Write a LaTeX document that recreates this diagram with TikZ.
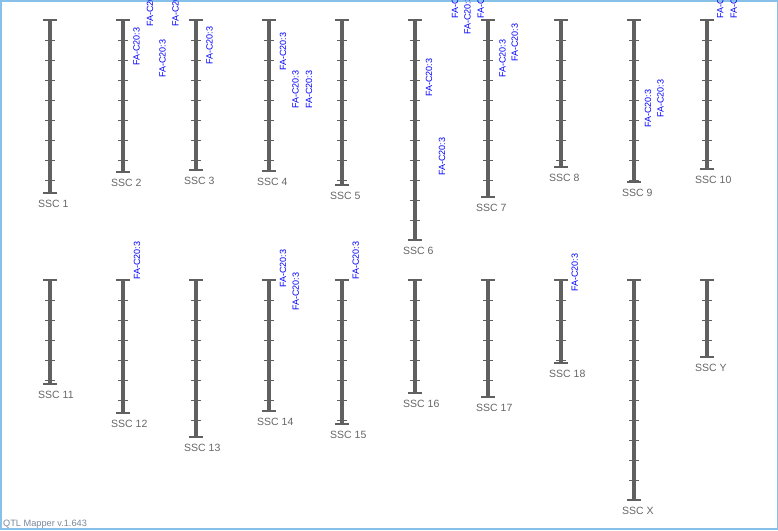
\documentclass[tikz,border=0pt]{standalone}
\usepackage{fontspec}
\setmainfont{Liberation Sans}

\definecolor{chromgray}{RGB}{96,96,96}
\definecolor{labelgray}{RGB}{102,102,102}
\definecolor{frameblue}{RGB}{135,192,232}
\definecolor{footgray}{RGB}{120,135,155}

\tikzset{
    chrom/.style={chromgray, line width=4.5pt},
    chromcap/.style={chromgray, line width=1.5pt},
    tickmark/.style={chromgray, line width=0.8pt},
    chromlabel/.style={labelgray, font=\fontsize{10.5}{12}\selectfont, anchor=west, inner sep=0pt},
    qtl/.style={blue, font=\fontsize{9}{10}\selectfont, rotate=90, anchor=west, inner sep=0pt},
    footer/.style={footgray, font=\fontsize{9.2}{10}\selectfont, anchor=base west, inner sep=0pt}
}

\begin{document}
\begin{tikzpicture}[x=1pt, y=-1pt]
    \useasboundingbox (0,0) rectangle (778,530);
    \clip (0,0) rectangle (778,530);

    % Frame
    \draw[frameblue, line width=1.5pt] (0.75,0.75) rectangle (777.25,528.75);

    % Draw chromosomes with ticks every 20
    \foreach \id/\x/\ya/\yb/\lab in {
        c1/50/20/193/SSC 1, c2/123/20/172/SSC 2, c3/196/20/170/SSC 3,
        c4/269/20/171/SSC 4, c5/342/20/185/SSC 5, c6/415/20/240/SSC 6,
        c7/488/20/197/SSC 7, c8/561/20/167/SSC 8, c9/634/20/182/SSC 9,
        c10/707/20/169/SSC 10,
        c11/50/280/384/SSC 11, c12/123/280/413/SSC 12, c13/196/280/437/SSC 13,
        c14/269/280/411/SSC 14, c15/342/280/424/SSC 15, c16/415/280/393/SSC 16,
        c17/488/280/397/SSC 17, c18/561/280/363/SSC 18, cX/634/280/500/SSC X,
        cY/707/280/357/SSC Y} {
        \draw[chrom] (\x,\ya) -- (\x,\yb);
        \draw[chromcap] (\x-7,\ya) -- (\x+7,\ya);
        \draw[chromcap] (\x-7,\yb) -- (\x+7,\yb);
        \pgfmathtruncatemacro{\n}{(\yb-\ya)/20}
        \foreach \k in {1,...,\n} {
            \draw[tickmark] (\x-5,\ya+20*\k) -- (\x+5,\ya+20*\k);
        }
        \node[chromlabel] (\id) at (\x-12,\yb+11) {\lab};
    }

    % QTL labels
    \foreach \x/\y [count=\i] in {
        136.5/66, 150/27, 162.5/78, 175.5/27, 209.5/65,
        283/71, 295.5/109, 309/109,
        429/97, 442/176, 455/19, 467.5/35, 480.7/19,
        502.5/78, 514.7/62, 648/128, 660.5/118, 720.3/19, 733.7/19,
        137/280, 283/288, 295.7/311, 355.7/280, 574.7/292} {
        \node[qtl] (q\i) at (\x,\y) {FA-C20:3};
    }

    % Version
    \node[footer] (version) at (3,526) {QTL Mapper v.1.643};

\end{tikzpicture}
\end{document}
